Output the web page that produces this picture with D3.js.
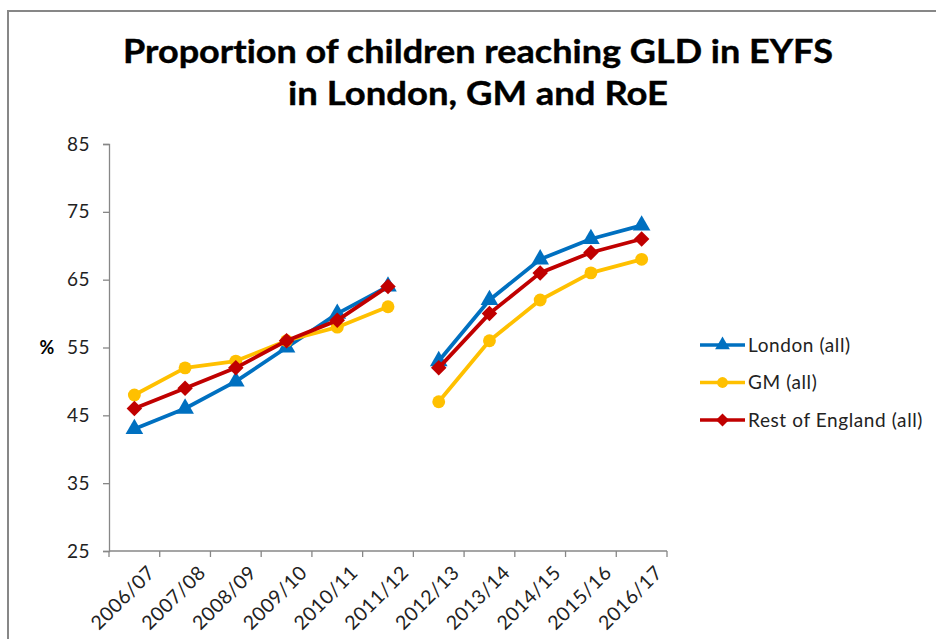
<!DOCTYPE html>
<html>
<head>
<meta charset="utf-8">
<script src="https://cdn.jsdelivr.net/npm/d3@7/dist/d3.min.js"></script>
<style>
  html, body { margin: 0; padding: 0; background: #fff; }
  svg { display: block; }
  text { font-family: Lato, "Open Sans", sans-serif; font-variant-ligatures: none; }
</style>
</head>
<body>
<svg id="chart" width="936" height="639"></svg>
<script>
// School years on the x axis
const years = ["2006/07", "2007/08", "2008/09", "2009/10", "2010/11", "2011/12",
               "2012/13", "2013/14", "2014/15", "2015/16", "2016/17"];
// The line restarts here (new EYFS profile from 2012/13)
const restartYear = "2012/13";

// % of children reaching a Good Level of Development
const london = [43, 46, 50, 55, 60, 64, 53, 62, 68, 71, 73];
const gm     = [48, 52, 53, 56, 58, 61, 47, 56, 62, 66, 68];
const roe    = [46, 49, 52, 56, 59, 64, 52, 60, 66, 69, 71];

const yTicks = [25, 35, 45, 55, 65, 75, 85];

const seriesNames = ["London (all)", "GM (all)", "Rest of England (all)"];
const seriesColors = ["#0070C0", "#FFC000", "#C00000"];
// diamond = square turned 45 degrees
const seriesMarkers = [d3.symbolTriangle, d3.symbolCircle, d3.symbolSquare];
const markerRotate = [0, 0, 45];
const seriesValues = [london, gm, roe];

const svg = d3.select("#chart");

// outer frame
svg.append("rect")
  .attr("x", 8).attr("y", 11)
  .attr("width", 960).attr("height", 700)
  .attr("fill", "none").attr("stroke", "#878787").attr("stroke-width", 2);

// title
const titleLines = ["Proportion of children reaching GLD in EYFS", "in London, GM and RoE"];
const titleWidths = [710, 380];
svg.selectAll("text.title").data(titleLines).join("text")
  .attr("class", "title")
  .attr("x", 478)
  .attr("y", (d, i) => 63 + i * 42)
  .attr("text-anchor", "middle")
  .attr("font-size", 33)
  .attr("font-weight", "bold")
  .attr("fill", "#000")
  .attr("stroke", "#000").attr("stroke-width", 0.4)
  .attr("textLength", (d, i) => titleWidths[i])
  .attr("lengthAdjust", "spacingAndGlyphs")
  .text(d => d);

const x = d3.scaleBand().domain(years).range([109, 667]).padding(0);
const y = d3.scaleLinear().domain([25, 85]).range([551, 144]);

// y axis
const yAxis = svg.append("g")
  .attr("transform", "translate(109,0)")
  .call(d3.axisLeft(y).tickValues(yTicks).tickSize(6).tickPadding(13));
yAxis.select(".domain").attr("stroke", "#878787").attr("stroke-width", 1.3);
yAxis.selectAll(".tick line").attr("stroke", "#878787").attr("stroke-width", 1.3);
yAxis.selectAll(".tick text")
  .attr("font-family", "Lato, sans-serif")
  .attr("font-size", 19).attr("letter-spacing", 0.5).attr("fill", "#222");

// y title
svg.append("text")
  .attr("x", 47).attr("y", 354)
  .attr("text-anchor", "middle")
  .attr("font-size", 18).attr("font-weight", "bold").attr("fill", "#000")
  .text("%");

// x axis with ticks at band boundaries
const xg = svg.append("g").attr("transform", "translate(0,551)");
xg.append("line")
  .attr("x1", 109).attr("x2", 667).attr("y1", 0).attr("y2", 0)
  .attr("stroke", "#878787").attr("stroke-width", 1.3);
const bounds = years.map(d => x(d)).concat([x(years[years.length - 1]) + x.bandwidth()]);
xg.selectAll("line.tk").data(bounds).join("line")
  .attr("class", "tk")
  .attr("x1", d => d).attr("x2", d => d)
  .attr("y1", 0).attr("y2", 6)
  .attr("stroke", "#878787").attr("stroke-width", 1.3);
xg.selectAll("text.lbl").data(years).join("text")
  .attr("class", "lbl")
  .attr("transform", d => `translate(${x(d) + x.bandwidth() / 2 + 12},13) rotate(-45)`)
  .attr("text-anchor", "end")
  .attr("dy", "0.72em")
  .attr("font-size", 19.5).attr("letter-spacing", 0.6).attr("fill", "#222")
  .text(d => d);

const cx = d => x(d) + x.bandwidth() / 2;
const restartIdx = years.indexOf(restartYear);

const line = d3.line().x(d => cx(d.year)).y(d => y(d.value));

const markerSize = [135, 130, 120];

seriesValues.forEach((vals, s) => {
  const pts = years.map((yr, i) => ({ year: yr, value: vals[i] }));
  const segments = [pts.slice(0, restartIdx), pts.slice(restartIdx)];
  const g = svg.append("g");
  g.selectAll("path.seg").data(segments).join("path")
    .attr("class", "seg")
    .attr("d", line)
    .attr("fill", "none")
    .attr("stroke", seriesColors[s])
    .attr("stroke-width", 3.8)
    .attr("stroke-linejoin", "round");
  g.selectAll("path.mk").data(pts).join("path")
    .attr("class", "mk")
    .attr("transform", d => `translate(${cx(d.year)},${y(d.value)}) rotate(${markerRotate[s]})`)
    .attr("d", d3.symbol().type(seriesMarkers[s]).size(markerSize[s]))
    .attr("fill", seriesColors[s]);
});

// legend
const legend = svg.append("g");
seriesNames.forEach((name, i) => {
  const ly = 345 + i * 37.5;
  legend.append("line")
    .attr("x1", 700).attr("x2", 745).attr("y1", ly).attr("y2", ly)
    .attr("stroke", seriesColors[i]).attr("stroke-width", 3.5);
  legend.append("path")
    .attr("transform", `translate(722.5,${ly}) rotate(${markerRotate[i]})`)
    .attr("d", d3.symbol().type(seriesMarkers[i]).size(markerSize[i] * 0.7))
    .attr("fill", seriesColors[i]);
  legend.append("text")
    .attr("x", 748).attr("y", ly)
    .attr("dy", "0.36em")
    .attr("font-size", 19).attr("letter-spacing", 0.6).attr("fill", "#222")
    .text(name);
});
</script>
</body>
</html>
